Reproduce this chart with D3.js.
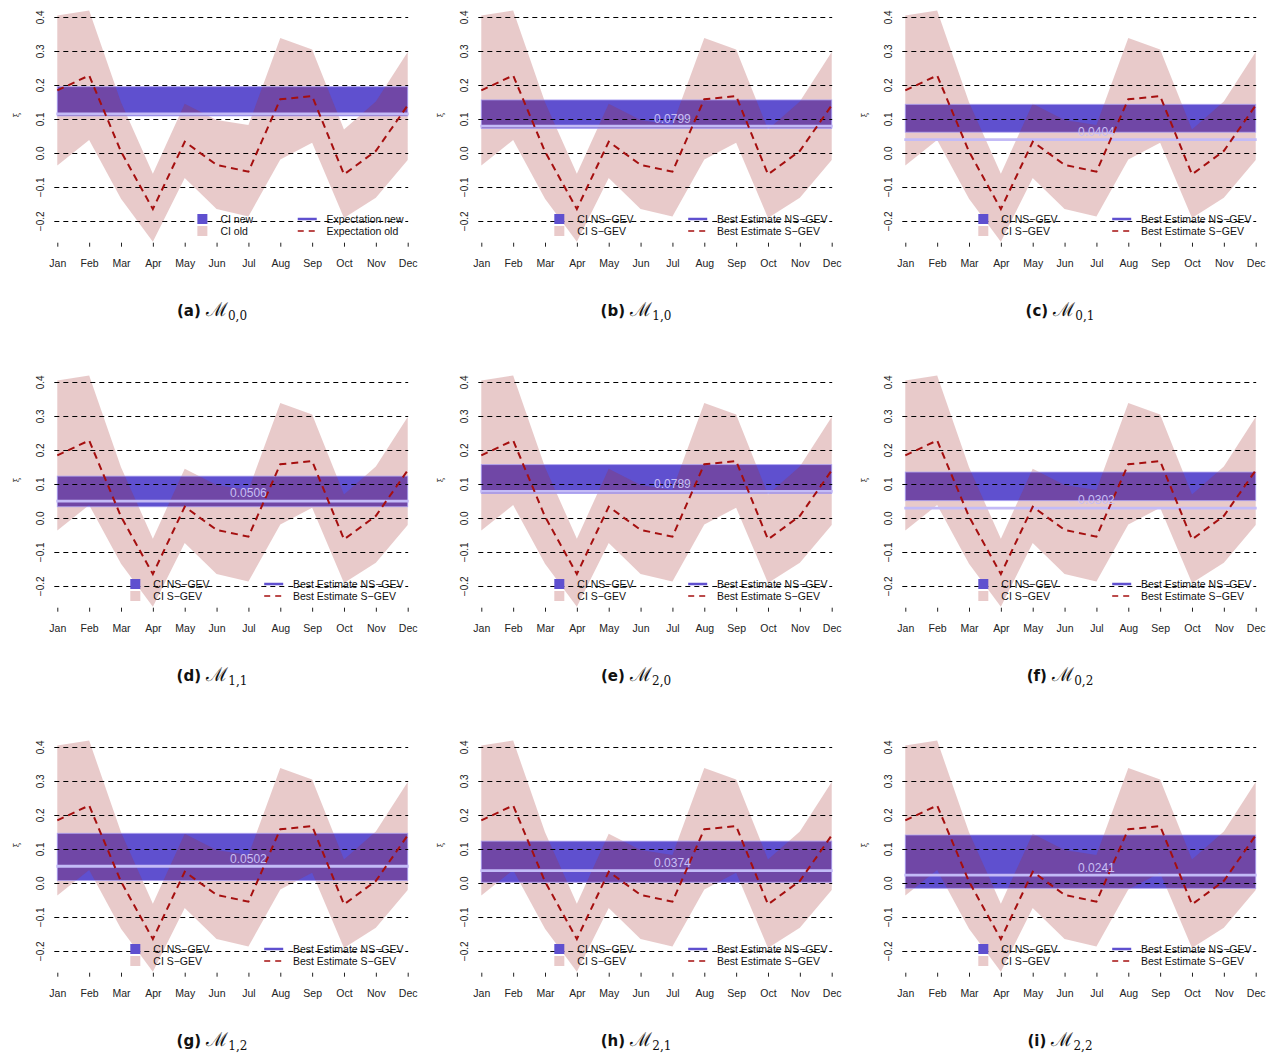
<!DOCTYPE html>
<html>
<head>
<meta charset="utf-8">
<script src="https://cdn.jsdelivr.net/npm/d3@7"></script>
<style>
  html, body { margin: 0; padding: 0; background: #fff; }
  svg { display: block; }
</style>
</head>
<body>
<svg id="chart" width="1279" height="1057"></svg>
<script>
// Month categories on the x axis
const months = ["Jan", "Feb", "Mar", "Apr", "May", "Jun", "Jul", "Aug", "Sep", "Oct", "Nov", "Dec"];

// Stationary GEV (monthly) shape parameter: confidence band and best estimate
const ciOldUpper = [0.405, 0.420, 0.150, -0.060, 0.146, 0.098, 0.083, 0.339, 0.305, 0.070, 0.152, 0.298];
const ciOldLower = [-0.036, 0.039, -0.134, -0.260, -0.073, -0.164, -0.186, -0.018, 0.031, -0.190, -0.131, -0.020];
const estOld     = [0.185, 0.229, 0.005, -0.164, 0.034, -0.034, -0.054, 0.159, 0.168, -0.062, 0.007, 0.141];

// Non-stationary GEV models: panel tag, model subscript, CI bounds, best estimate
const panelTags   = ["(a)", "(b)", "(c)", "(d)", "(e)", "(f)", "(g)", "(h)", "(i)"];
const modelSubs   = ["0,0", "1,0", "0,1", "1,1", "2,0", "0,2", "1,2", "2,1", "2,2"];
const ciNewLower  = [0.110, 0.073, 0.062, 0.034, 0.073, 0.052, 0.008, 0.003, -0.015];
const ciNewUpper  = [0.196, 0.157, 0.144, 0.124, 0.158, 0.136, 0.147, 0.124, 0.142];
const estNew      = [0.116, 0.0799, 0.0404, 0.0506, 0.0789, 0.0302, 0.0502, 0.0374, 0.0241];
const showEstText = [false, true, true, true, true, true, true, true, true];

// Axis ticks
const yTicks = [-0.2, -0.1, 0.0, 0.1, 0.2, 0.3, 0.4];
const gridLevels = [-0.2, -0.1, 0.0, 0.1, 0.2, 0.3, 0.4];

// Legend texts
const legendFirst = ["CI new", "CI old", "Expectation new", "Expectation old"];
const legendOther = ["CI NS\u2212GEV", "CI S\u2212GEV", "Best Estimate NS\u2212GEV", "Best Estimate S\u2212GEV"];

// Styling
const BLUE = "#5f50cf";
const PINK = "rgba(165,42,42,0.25)";
const PINK_SOLID = "#e9caca";
const RED = "#a50f0f";
const EST_LINE = "#c3bbf7";
const FONT = "'Liberation Sans', Arial, Helvetica, sans-serif";
const LEGEND_SIZE = 10.5;

const svg = d3.select("#chart");
const colW = 424, rowH = 365;

const fmtTick = v => (v < 0 ? "\u2212" : "") + Math.abs(v).toFixed(1);

function drawPanel(i) {
  const col = i % 3, row = Math.floor(i / 3);
  const g = svg.append("g").attr("transform", `translate(${col * colW},${row * rowH})`);

  const x = d3.scaleLinear().domain([1, 12]).range([57.3, 407.7]);
  const y = d3.scaleLinear().domain([-0.2, 0.4]).range([221.3, 17.3]);
  const idx = d3.range(1, 13);

  // Non-stationary CI band
  g.append("rect")
    .attr("x", x(1)).attr("width", x(12) - x(1))
    .attr("y", y(ciNewUpper[i])).attr("height", y(ciNewLower[i]) - y(ciNewUpper[i]))
    .attr("fill", BLUE);

  // Stationary CI band
  const area = d3.area()
    .x((d, k) => x(idx[k]))
    .y0((d, k) => y(ciOldLower[k]))
    .y1((d, k) => y(ciOldUpper[k]));
  g.append("path").datum(months).attr("d", area).attr("fill", PINK);

  // Band outline
  g.append("rect")
    .attr("x", x(1)).attr("width", x(12) - x(1))
    .attr("y", y(ciNewUpper[i])).attr("height", y(ciNewLower[i]) - y(ciNewUpper[i]))
    .attr("fill", "none").attr("stroke", "rgba(175,165,245,0.75)").attr("stroke-width", 1);

  // Best estimate of the non-stationary model
  g.append("line")
    .attr("x1", x(1) - 1).attr("x2", x(12) + 1)
    .attr("y1", y(estNew[i])).attr("y2", y(estNew[i]))
    .attr("stroke", EST_LINE).attr("stroke-width", 2.8);

  // Horizontal dashed reference lines
  g.selectAll("line.grid").data(gridLevels).enter().append("line")
    .attr("class", "grid")
    .attr("x1", x(1) - 3).attr("x2", x(12) + 0.5)
    .attr("y1", d => Math.round(y(d)) + 0.5).attr("y2", d => Math.round(y(d)) + 0.5)
    .attr("stroke", "#000").attr("stroke-width", 1)
    .attr("stroke-dasharray", "5,4");

  // Stationary best estimate
  const line = d3.line().x((d, k) => x(idx[k])).y(d => y(d));
  g.append("path").datum(estOld).attr("d", line)
    .attr("fill", "none").attr("stroke", RED).attr("stroke-width", 2)
    .attr("stroke-dasharray", "7,5");

  // Value text
  if (showEstText[i]) {
    g.append("text")
      .attr("x", x(7)).attr("y", y(estNew[i]) - 3.6)
      .attr("text-anchor", "middle")
      .attr("font-family", FONT).attr("font-size", 12)
      .attr("fill", "#c7bff5")
      .text(estNew[i].toFixed(4));
  }

  // Y tick labels (rotated)
  yTicks.forEach(v => {
    g.append("text")
      .attr("transform", `translate(44,${y(v)}) rotate(-90)`)
      .attr("text-anchor", "middle")
      .attr("font-family", FONT).attr("font-size", 10)
      .attr("fill", "#222")
      .text(fmtTick(v));
  });
  g.append("text")
    .attr("transform", `translate(19,${115}) rotate(-90)`)
    .attr("text-anchor", "middle")
    .attr("font-family", "'DejaVu Serif', serif").attr("font-size", 8)
    .attr("fill", "#222")
    .text("\u03BE");

  // X ticks and labels
  const xAxis = d3.axisBottom(x).tickValues(idx).tickSize(4).tickPadding(13)
    .tickFormat(d => months[d - 1]);
  const ax = g.append("g").attr("transform", "translate(0,242.7)").call(xAxis);
  ax.select(".domain").remove();
  ax.selectAll(".tick line").attr("stroke", "#222");
  ax.selectAll(".tick text").attr("font-family", FONT).attr("font-size", 10.5).attr("fill", "#222");

  // Legend, right-aligned, two columns
  const labels = i === 0 ? legendFirst : legendOther;
  const lg = g.append("g");
  const tmp = lg.selectAll("text.m").data(labels).enter().append("text")
    .attr("font-family", FONT).attr("font-size", LEGEND_SIZE).text(d => d);
  const widths = [];
  tmp.each(function () { widths.push(this.getComputedTextLength()); });
  tmp.remove();
  const maxW = d3.max(widths);
  const rightEdge = 403.5;
  const c2 = rightEdge - maxW;
  const c1 = c2 - (maxW + 29);
  const rowsY = [219, 231];

  lg.append("rect").attr("x", c1 - 23).attr("y", rowsY[0] - 5).attr("width", 10).attr("height", 10).attr("fill", BLUE);
  lg.append("rect").attr("x", c1 - 23).attr("y", rowsY[1] - 5).attr("width", 10).attr("height", 10).attr("fill", PINK_SOLID);
  lg.append("line").attr("x1", c2 - 28.7).attr("x2", c2 - 9.7).attr("y1", rowsY[0]).attr("y2", rowsY[0])
    .attr("stroke", BLUE).attr("stroke-width", 2.5);
  lg.append("line").attr("x1", c2 - 28.7).attr("x2", c2 - 9.7).attr("y1", rowsY[1]).attr("y2", rowsY[1])
    .attr("stroke", RED).attr("stroke-width", 1.5).attr("stroke-dasharray", "6,5");

  [[c1, rowsY[0], labels[0]], [c1, rowsY[1], labels[1]], [c2, rowsY[0], labels[2]], [c2, rowsY[1], labels[3]]]
    .forEach(([tx, ty, t]) => {
      lg.append("text").attr("x", tx).attr("y", ty + 3.7)
        .attr("font-family", FONT).attr("font-size", LEGEND_SIZE).attr("fill", "#111").text(t);
    });

  // Caption
  const cap = g.append("text")
    .attr("x", 212).attr("y", 316)
    .attr("text-anchor", "middle")
    .attr("fill", "#111");
  cap.append("tspan").attr("font-family", "'DejaVu Sans', sans-serif").attr("font-weight", "bold")
    .attr("font-size", 15).text(panelTags[i] + " ");
  cap.append("tspan").attr("font-family", "'DejaVu Serif', serif")
    .attr("font-size", 19).text("\u2133");
  cap.append("tspan").attr("font-family", "'DejaVu Serif', serif")
    .attr("font-size", 12).attr("dy", 4).text(modelSubs[i]);
}

d3.range(9).forEach(drawPanel);
</script>
</body>
</html>
